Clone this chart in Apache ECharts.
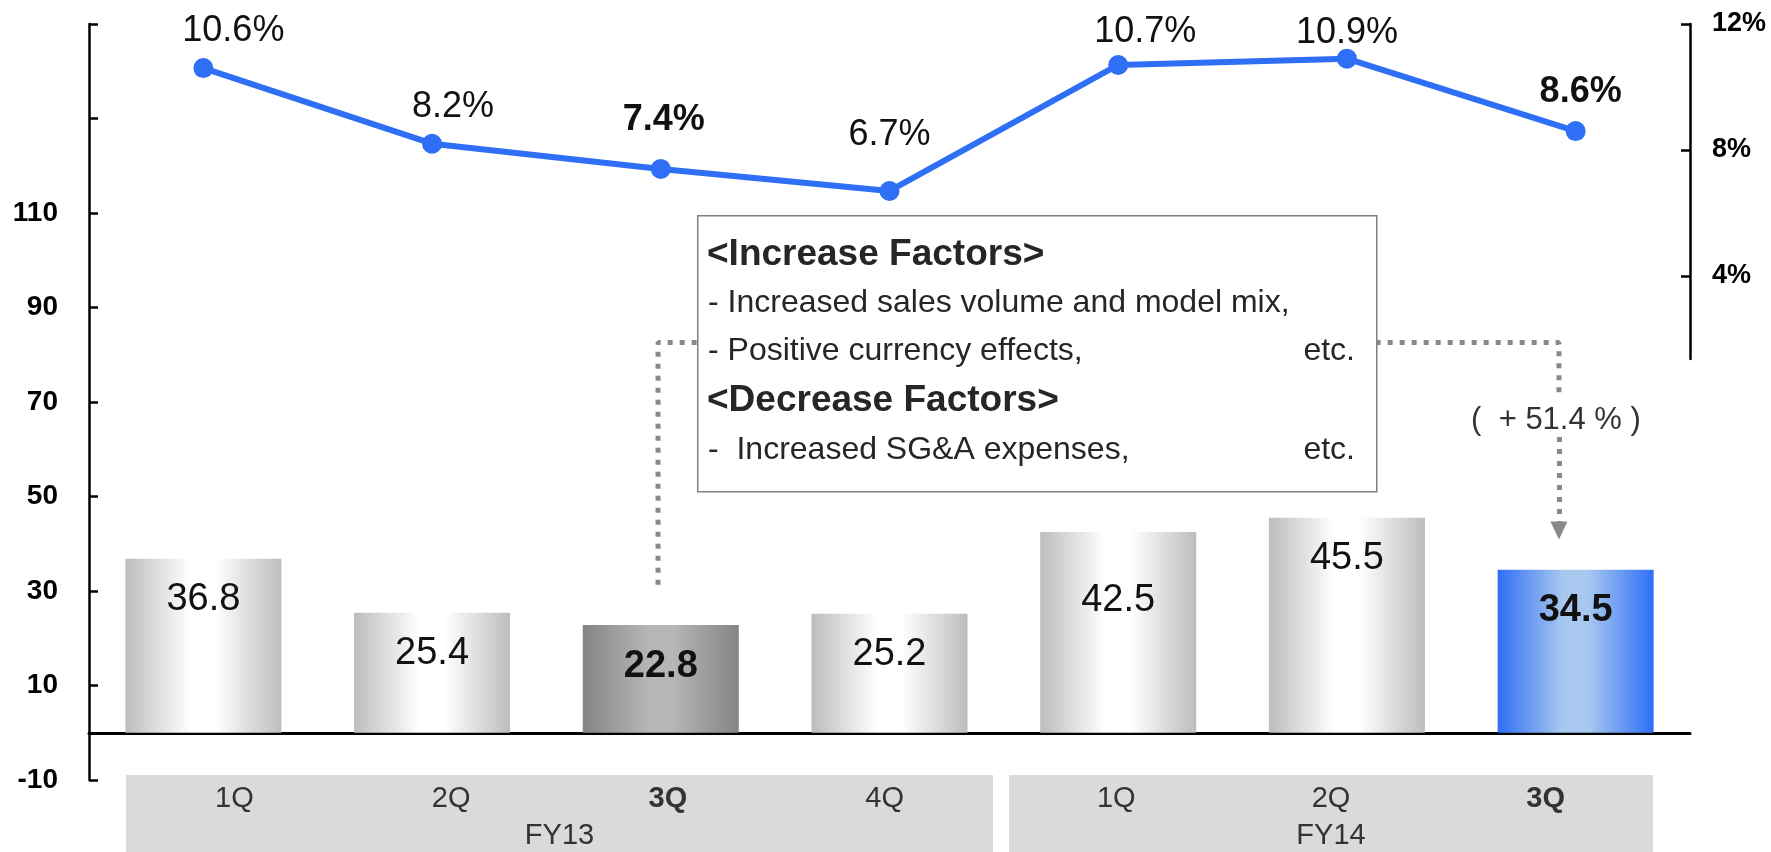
<!DOCTYPE html>
<html><head><meta charset="utf-8">
<script src="https://cdn.jsdelivr.net/npm/echarts@6/dist/echarts.min.js"></script>
<style>html,body{margin:0;padding:0;background:#fff}#c{width:1771px;height:852px}</style>
</head><body><div id="c"></div>
<script>
// ---- data ----
const categories = ['FY13 1Q','FY13 2Q','FY13 3Q','FY13 4Q','FY14 1Q','FY14 2Q','FY14 3Q'];
const fy13Quarters = ['1Q','2Q','3Q','4Q'];
const fy14Quarters = ['1Q','2Q','3Q'];
const fy13Label = ['FY13'];
const fy14Label = ['FY14'];
const operatingIncome = [36.8, 25.4, 22.8, 25.2, 42.5, 45.5, 34.5];
const operatingMargin = [10.6, 8.2, 7.4, 6.7, 10.7, 10.9, 8.6];
const rightTickValues = [4, 8, 12];
const changeText = '(  + 51.4 % )';
// connector path on a hidden 0..7 band axis (x) and the left value axis (y)
const connectorX = [2.488, 6.427];
const connectorY = [31.3, 82.6, 72.0];
const arrowY = [62.6, 42.8];
const changeLabelAt = [6.414, 66.0];
const increaseHeader = '<Increase Factors>';
const increaseItems = ['- Increased sales volume and model mix,', '- Positive currency effects,'];
const decreaseHeader = '<Decrease Factors>';
const decreaseItems = ['-  Increased SG&A expenses,'];
const etcText = 'etc.';

// ---- styles ----
const FONT = '"Liberation Sans", Arial, Helvetica, sans-serif';
const boldIdx = [2, 6];
function grad(edge, mid) {
  return {type:'linear', x:0, y:0, x2:1, y2:0, colorStops:[
    {offset:0, color:edge},{offset:0.42, color:mid},{offset:0.58, color:mid},{offset:1, color:edge}]};
}
const lightFill = grad('#bdbdbd', '#ffffff');
const darkFill = grad('#848484', '#b6b6b6');
const blueFill = grad('#2f6ff6', '#a8c8ef');

const barData = operatingIncome.map((v, i) => {
  const item = {value: v, itemStyle: {color: i === 2 ? darkFill : (i === 6 ? blueFill : lightFill)}};
  const lab = {};
  if (boldIdx.includes(i)) lab.fontWeight = 'bold';
  if (i === 4) lab.distance = 50;
  item.label = lab;
  return item;
});
const lineNudge = [[30,0],[21,0],[3,-12],[0,-19],[27,4],[0,11],[5,-2]];
const lineData = operatingMargin.map((v, i) => ({
  value: v,
  label: {offset: lineNudge[i], fontWeight: boldIdx.includes(i) ? 'bold' : 'normal'}
}));
const connectorPath = [
  [connectorX[0], connectorY[0]],
  [connectorX[0], connectorY[1]],
  [connectorX[1], connectorY[1]],
  [connectorX[1], connectorY[2]]
];
const dotStyle = {color: '#898989', width: 5, type: [5, 7]};

const tableLabel = {
  inside: true, interval: 0, fontSize: 29, color: '#333', fontFamily: FONT,
  formatter: v => v === '3Q' ? '{b|' + v + '}' : v,
  rich: {b: {fontWeight: 'bold', fontSize: 29, color: '#333', fontFamily: FONT}}
};
const hiddenLine = {show: false};

const option = {
  animation: false,
  backgroundColor: '#fff',
  textStyle: {fontFamily: FONT},
  grid: [
    {left: 89, right: 81, top: 24, bottom: 72, outerBoundsMode: 'none', containLabel: false},
    {left: 126, top: 775, width: 867, height: 77, show: true, backgroundColor: '#dadada', borderWidth: 0, outerBoundsMode: 'none'},
    {left: 1009, top: 775, width: 644, height: 77, show: true, backgroundColor: '#dadada', borderWidth: 0, outerBoundsMode: 'none'},
    {left: 89, right: 81, top: 24, height: 335, outerBoundsMode: 'none'}
  ],
  xAxis: [
    {gridIndex: 0, type: 'category', data: categories,
     axisLine: {onZero: true, onZeroAxisIndex: 0, lineStyle: {color: '#000', width: 3}},
     axisTick: {show: false}, axisLabel: {show: false}, splitLine: {show: false}},
    {gridIndex: 1, type: 'category', data: fy13Quarters, position: 'top',
     axisLine: hiddenLine, axisTick: {show: false}, axisLabel: Object.assign({margin: 9}, tableLabel)},
    {gridIndex: 1, type: 'category', data: fy13Label, position: 'bottom',
     axisLine: hiddenLine, axisTick: {show: false}, axisLabel: Object.assign({margin: 2}, tableLabel)},
    {gridIndex: 2, type: 'category', data: fy14Quarters, position: 'top',
     axisLine: hiddenLine, axisTick: {show: false}, axisLabel: Object.assign({margin: 9}, tableLabel)},
    {gridIndex: 2, type: 'category', data: fy14Label, position: 'bottom',
     axisLine: hiddenLine, axisTick: {show: false}, axisLabel: Object.assign({margin: 2}, tableLabel)},
    {gridIndex: 3, type: 'value', show: false, min: 0, max: 1},
    {gridIndex: 0, type: 'value', show: false, min: 0, max: 7}
  ],
  yAxis: [
    {gridIndex: 0, type: 'value', position: 'left', min: -10, max: 150, interval: 20,
     axisLine: {show: true, lineStyle: {color: '#000', width: 2.5}},
     axisTick: {show: true, inside: true, length: 9, lineStyle: {color: '#000', width: 2.5}},
     axisLabel: {margin: 31, fontSize: 28, fontWeight: 'bold', color: '#000', fontFamily: FONT,
                 formatter: v => v > 110 ? '' : String(v)},
     splitLine: {show: false}},
    {gridIndex: 0, type: 'value', position: 'right', min: -12, max: 12, interval: 4,
     axisLine: {show: false},
     axisTick: {show: true, inside: true, length: 9, customValues: rightTickValues, lineStyle: {color: '#000', width: 2.5}},
     axisLabel: {margin: 22, fontSize: 27, fontWeight: 'bold', color: '#000', fontFamily: FONT,
                 customValues: rightTickValues, formatter: '{value}%'},
     splitLine: {show: false}},
    {gridIndex: 1, type: 'value', show: false},
    {gridIndex: 2, type: 'value', show: false},
    {gridIndex: 3, type: 'value', position: 'right', min: 0, max: 1,
     axisLine: {show: true, onZero: false, lineStyle: {color: '#000', width: 2.5}},
     axisTick: {show: false}, axisLabel: {show: false}, splitLine: {show: false}}
  ],
  series: [
    {type: 'bar', xAxisIndex: 0, yAxisIndex: 0, data: barData, barWidth: 156,
     label: {show: true, position: 'insideTop', distance: 22, fontSize: 38, color: '#111', fontFamily: FONT}},
    {type: 'line', xAxisIndex: 6, yAxisIndex: 0, data: connectorPath, z: 1,
     showSymbol: false, symbol: 'none', silent: true, lineStyle: dotStyle,
     markLine: {
       silent: true, symbol: ['none', 'none'], label: {show: false}, animation: false,
       lineStyle: dotStyle,
       data: [[{coord: [connectorX[1], arrowY[0]]},
               {coord: [connectorX[1], arrowY[1]], symbol: 'triangle', symbolSize: [17, 18]}]]
     },
     markPoint: {
       silent: true, symbol: 'circle', symbolSize: 1, itemStyle: {color: 'rgba(0,0,0,0)'},
       label: {show: true, position: 'inside', formatter: changeText, fontSize: 31, color: '#333',
               fontFamily: FONT},
       data: [{coord: changeLabelAt}]
     }
    },
    {type: 'line', xAxisIndex: 0, yAxisIndex: 1, data: lineData, z: 4,
     symbol: 'circle', symbolSize: 20,
     lineStyle: {color: '#2e6ff5', width: 6}, itemStyle: {color: '#2e6ff5'},
     label: {show: true, position: 'top', distance: 9, fontSize: 36, color: '#111', fontFamily: FONT,
             formatter: p => p.value + '%'}}
  ],
  graphic: {elements: [
    {type: 'rect', left: 697, top: 215, z: 100, shape: {width: 679, height: 276},
     style: {fill: '#fff', stroke: '#808080', lineWidth: 1.5}},
    {type: 'text', x: 707, y: 255, z: 101, style: {text: increaseHeader, fontSize: 37, fontWeight: 'bold', fontFamily: FONT, fill: '#262626', verticalAlign: 'middle'}},
    {type: 'text', x: 708, y: 303, z: 101, style: {text: increaseItems[0], fontSize: 32, fontFamily: FONT, fill: '#262626', verticalAlign: 'middle'}},
    {type: 'text', x: 708, y: 351, z: 101, style: {text: increaseItems[1], fontSize: 32, fontFamily: FONT, fill: '#262626', verticalAlign: 'middle'}},
    {type: 'text', x: 1355, y: 351, z: 101, style: {text: etcText, fontSize: 32, fontFamily: FONT, fill: '#262626', align: 'right', verticalAlign: 'middle'}},
    {type: 'text', x: 707, y: 401, z: 101, style: {text: decreaseHeader, fontSize: 37, fontWeight: 'bold', fontFamily: FONT, fill: '#262626', verticalAlign: 'middle'}},
    {type: 'text', x: 708, y: 450, z: 101, style: {text: decreaseItems[0], fontSize: 32, fontFamily: FONT, fill: '#262626', verticalAlign: 'middle'}},
    {type: 'text', x: 1355, y: 450, z: 101, style: {text: etcText, fontSize: 32, fontFamily: FONT, fill: '#262626', align: 'right', verticalAlign: 'middle'}}
  ]}
};
const chart = echarts.init(document.getElementById('c'), null, {renderer: 'canvas'});
chart.setOption(option);
</script></body></html>
